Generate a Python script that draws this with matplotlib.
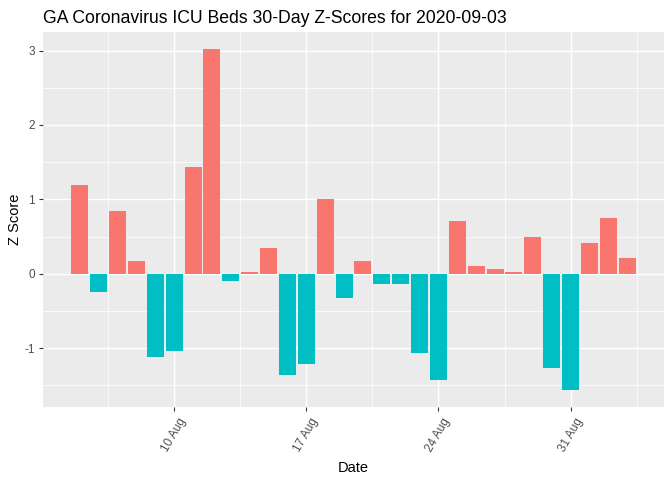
import numpy as np
import pandas as pd
import matplotlib

matplotlib.use("Agg")

import matplotlib.pyplot as plt
import matplotlib.dates as mdates

plt.rcParams["font.family"] = ["Liberation Sans", "DejaVu Sans"]

dates = pd.date_range("2020-08-05", "2020-09-03", freq="D")
z_scores = [
    1.20, -0.24, 0.85, 0.17, -1.12, -1.03, 1.44, 3.02, -0.09, 0.02,
    0.35, -1.36, -1.21, 1.00, -0.33, 0.17, -0.13, -0.13, -1.07, -1.42,
    0.71, 0.11, 0.06, 0.02, 0.50, -1.27, -1.56, 0.41, 0.75, 0.21,
]
tick_dates = pd.to_datetime(["2020-08-10", "2020-08-17", "2020-08-24", "2020-08-31"])
minor_dates = pd.to_datetime(
    ["2020-08-06 12:00", "2020-08-13 12:00", "2020-08-20 12:00",
     "2020-08-27 12:00", "2020-09-03 12:00"]
)

POS = "#F8766D"
NEG = "#00BFC4"

fig = plt.figure(figsize=(7, 5), dpi=96)
ax = fig.add_axes([43 / 672, 1 - 407 / 480, (664 - 43) / 672, (407 - 32) / 480])
ax.set_facecolor("#EBEBEB")

vals = np.array(z_scores)
colors = [POS if v > 0 else NEG for v in vals]
x = mdates.date2num(dates)
ax.bar(x, vals, width=0.9, color=colors, zorder=3)

# ggplot-like expansion
xmin, xmax = x.min() - 0.45, x.max() + 0.45
dx = (xmax - xmin) * 0.05
ax.set_xlim(xmin - dx, xmax + dx)
ymin, ymax = min(vals.min(), 0), vals.max()
dy = (ymax - ymin) * 0.05
ax.set_ylim(ymin - dy, ymax + dy)

ax.set_xticks(mdates.date2num(tick_dates))
ax.set_xticklabels([d.strftime("%d %b").lstrip("0") for d in tick_dates])
ax.set_xticks(mdates.date2num(minor_dates), minor=True)
ax.set_yticks([-1, 0, 1, 2, 3])
ax.set_yticklabels(["-1", "0", "1", "2", "3"])
ax.set_yticks([-1.5, -0.5, 0.5, 1.5, 2.5], minor=True)

ax.grid(which="major", color="white", linewidth=1.1, zorder=0)
ax.grid(which="minor", color="white", linewidth=0.55, zorder=0)
ax.set_axisbelow(True)
for s in ax.spines.values():
    s.set_visible(False)

ax.tick_params(which="major", length=2.75, width=0.8, color="#333333",
               labelsize=8.8, labelcolor="#4D4D4D")
ax.tick_params(axis="x", which="major", pad=4)
ax.tick_params(which="minor", length=0)
plt.setp(ax.get_xticklabels(), rotation=60, ha="center", va="top",
         rotation_mode="default")

ax.set_xlabel("Date", fontsize=11, color="black", labelpad=5)
ax.set_ylabel("Z Score", fontsize=11, color="black", labelpad=1.5)
ax.set_title("GA Coronavirus ICU Beds 30-Day Z-Scores for 2020-09-03",
             fontsize=13.2, loc="left", pad=7)

fig.savefig("out.png", dpi=96)
